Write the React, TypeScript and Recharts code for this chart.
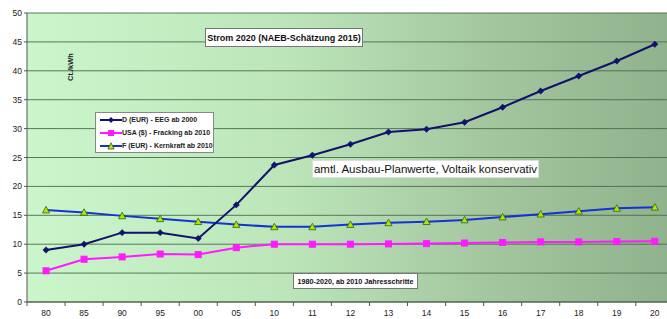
import React from 'react';
import { LineChart, Line, XAxis, YAxis, CartesianGrid } from 'recharts';

const categories = ['80', '85', '90', '95', '00', '05', '10', '11', '12', '13', '14', '15', '16', '17', '18', '19', '20'];
const seriesD = [9, 10, 12, 12, 11, 16.8, 23.7, 25.4, 27.3, 29.4, 29.9, 31.1, 33.7, 36.5, 39.1, 41.7, 44.6];
const seriesUSA = [5.4, 7.4, 7.8, 8.3, 8.2, 9.4, 10, 10, 10, 10.05, 10.1, 10.2, 10.3, 10.4, 10.4, 10.45, 10.5];
const seriesF = [15.9, 15.5, 14.9, 14.4, 13.9, 13.4, 13, 13, 13.4, 13.7, 13.9, 14.2, 14.7, 15.2, 15.7, 16.2, 16.4];
const yTicks = [0, 5, 10, 15, 20, 25, 30, 35, 40, 45, 50];
const seriesNames = ['D (EUR) - EEG ab 2000', 'USA ($) - Fracking ab 2010', 'F (EUR) - Kernkraft ab 2010'];
const titleText = 'Strom 2020 (NAEB-Schätzung 2015)';
const unitText = 'Ct./kWh';
const noteText = 'amtl. Ausbau-Planwerte, Voltaik konservativ';
const rangeText = '1980-2020, ab 2010 Jahresschritte';

const data = categories.map((c, i) => ({ idx: i, cat: c, d: seriesD[i], usa: seriesUSA[i], f: seriesF[i] }));
const xTicks = categories.map((_, i) => i);

const colD = '#12126e';
const colUSA = '#ff1aff';
const colF = '#1434d0';
const colTri = '#b8e200';
const font = '"Liberation Sans", Arial, sans-serif';

const Diamond = (p: any) => {
  const { cx, cy, key } = p;
  if (cx == null || cy == null) return <g key={key} />;
  const r = 3.2;
  return <polygon key={key} points={`${cx},${cy - r} ${cx + r},${cy} ${cx},${cy + r} ${cx - r},${cy}`} fill={colD} stroke={colD} strokeWidth={0.5} />;
};
const Square = (p: any) => {
  const { cx, cy, key } = p;
  if (cx == null || cy == null) return <g key={key} />;
  const r = 3;
  return <rect key={key} x={cx - r} y={cy - r} width={2 * r} height={2 * r} fill={colUSA} stroke={colUSA} />;
};
const Triangle = (p: any) => {
  const { cx, cy, key } = p;
  if (cx == null || cy == null) return <g key={key} />;
  const r = 3.6;
  return <polygon key={key} points={`${cx},${cy - r} ${cx + r},${cy + r * 0.8} ${cx - r},${cy + r * 0.8}`} fill={colTri} stroke="#2a6a10" strokeWidth={0.8} />;
};

const XTick = (p: any) => {
  const { x, y, payload } = p;
  return (
    <g>
      <line x1={x - 19} x2={x - 19} y1={y - 8} y2={y - 4} stroke="#555" strokeWidth={1} />
      <text x={x} y={y + 6} textAnchor="middle" fontSize={8.5} fill="#222" fontFamily={font}>
        {categories[payload.value]}
      </text>
    </g>
  );
};

const boxStyle: React.CSSProperties = {
  position: 'absolute',
  background: '#fff',
  border: '1px solid #777',
  fontFamily: font,
  color: '#111',
  whiteSpace: 'nowrap',
  boxSizing: 'border-box',
  display: 'flex',
  alignItems: 'center',
};

const LegendSample = ({ color, marker }: { color: string; marker: string }) => (
  <svg width={22} height={8} style={{ display: 'block' }}>
    <line x1={0} x2={22} y1={4} y2={4} stroke={color} strokeWidth={2} />
    {marker === 'diamond' && <polygon points="11,1 14,4 11,7 8,4" fill={colD} />}
    {marker === 'square' && <rect x={8} y={1} width={6} height={6} fill={colUSA} />}
    {marker === 'triangle' && <polygon points="11,0.8 14.2,7 7.8,7" fill={colTri} stroke="#2a6a10" strokeWidth={0.8} />}
  </svg>
);

export default function App() {
  const legendItems = [
    { name: seriesNames[0], color: colD, marker: 'diamond' },
    { name: seriesNames[1], color: colUSA, marker: 'square' },
    { name: seriesNames[2], color: colF, marker: 'triangle' },
  ];
  return (
    <div style={{ position: 'absolute', left: 0, top: 0, width: 667, height: 319, background: '#fff', overflow: 'hidden' }}>
      <LineChart width={667} height={319} data={data} margin={{ top: 13, right: 0, bottom: 0, left: 0 }}>
        <defs>
          <linearGradient id="bg" x1="0" y1="0" x2="1" y2="0">
            <stop offset="0" stopColor="#cbf6cb" />
            <stop offset="0.4" stopColor="#bce6ba" />
            <stop offset="0.7" stopColor="#a5c8a1" />
            <stop offset="1" stopColor="#90b28c" />
          </linearGradient>
        </defs>
        <CartesianGrid vertical={false} stroke="#4d6a4d" strokeOpacity={0.9} fill="url(#bg)" fillOpacity={1} />
        <XAxis
          dataKey="idx"
          type="number"
          domain={[-0.5, 16.32]}
          ticks={xTicks}
          interval={0}
          height={17}
          tick={<XTick />}
          tickLine={false}
          axisLine={{ stroke: '#555' }}
          allowDataOverflow
        />
        <YAxis
          domain={[0, 50]}
          ticks={yTicks}
          width={27}
          interval={0}
          tick={{ fontSize: 8.5, fill: '#222', fontFamily: font }}
          tickLine={{ stroke: '#555' }}
          tickSize={3}
          axisLine={{ stroke: '#555' }}
        />
        <Line dataKey="f" stroke={colF} strokeWidth={2} dot={Triangle} isAnimationActive={false} />
        <Line dataKey="usa" stroke={colUSA} strokeWidth={2} dot={Square} isAnimationActive={false} />
        <Line dataKey="d" stroke={colD} strokeWidth={2} dot={Diamond} isAnimationActive={false} />
      </LineChart>

      <div
        style={{
          position: 'absolute',
          left: 70,
          top: 67,
          transform: 'translate(-50%, -50%) rotate(-90deg)',
          fontFamily: font,
          fontSize: 7.5,
          fontWeight: 'bold',
          color: '#222',
          whiteSpace: 'nowrap',
        }}
      >
        {unitText}
      </div>

      <div style={{ ...boxStyle, left: 205, top: 28, width: 158, height: 19, fontSize: 9, fontWeight: 'bold', justifyContent: 'center' }}>
        {titleText}
      </div>

      <div style={{ ...boxStyle, left: 312, top: 160, width: 227, height: 18, fontSize: 11.5, justifyContent: 'center', border: '1px solid #ddd' }}>
        {noteText}
      </div>

      <div style={{ ...boxStyle, left: 293, top: 273, width: 125, height: 16, fontSize: 7.2, fontWeight: 'bold', justifyContent: 'center' }}>
        {rangeText}
      </div>

      <div
        style={{
          ...boxStyle,
          left: 95,
          top: 112,
          width: 119,
          height: 41,
          flexDirection: 'column',
          alignItems: 'flex-start',
          justifyContent: 'center',
          gap: 5,
          paddingLeft: 4,
          border: '1px solid #888',
        }}
      >
        {legendItems.map((it) => (
          <div key={it.name} style={{ display: 'flex', alignItems: 'center', fontSize: 7, fontWeight: 'bold', color: '#222', height: 8 }}>
            <LegendSample color={it.color} marker={it.marker} />
            <span>{it.name}</span>
          </div>
        ))}
      </div>
    </div>
  );
}
